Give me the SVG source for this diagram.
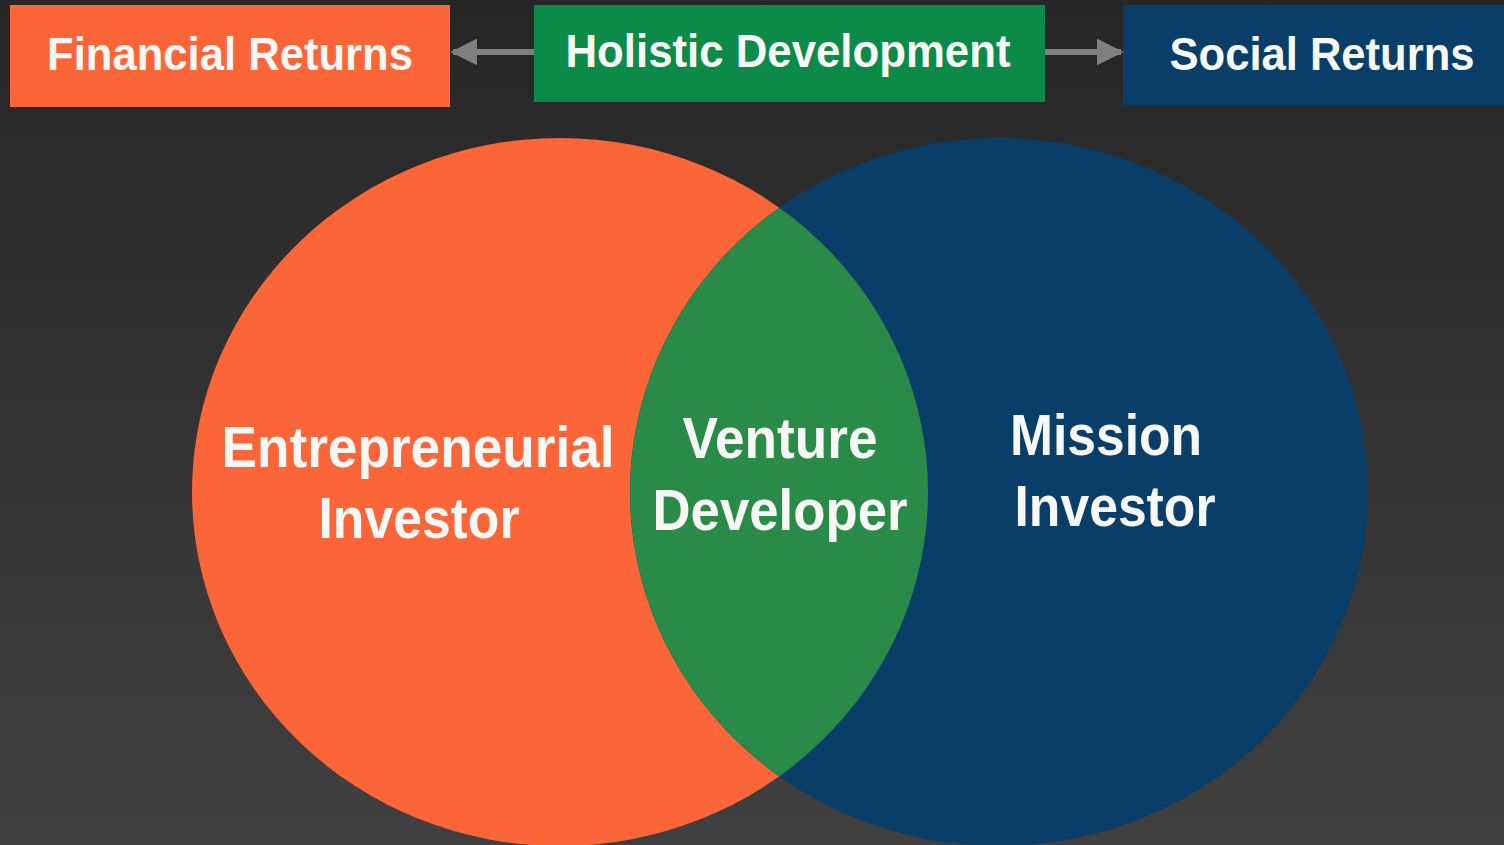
<svg xmlns="http://www.w3.org/2000/svg" width="1504" height="845" viewBox="0 0 1504 845">
<style>
.lbl{font-family:"Liberation Sans Narrow","Liberation Sans",Arial,sans-serif;font-weight:bold;fill:#F7F7F5;text-anchor:middle}
.top{font-size:46px}
.big{font-size:58px}
.conn{stroke:#808080;stroke-width:6;fill:none}
</style>
<defs>
<linearGradient id="bg" x1="0" y1="0" x2="0" y2="1">
<stop offset="0" stop-color="#262626"/>
<stop offset="1" stop-color="#404040"/>
</linearGradient>
<marker id="ah" viewBox="0 0 10 10" refX="9" refY="5" markerWidth="4.5" markerHeight="4.5" orient="auto" markerUnits="strokeWidth">
<path d="M0,0 L10,5 L0,10 z" fill="#808080"/>
</marker>
<clipPath id="lensClip">
<ellipse cx="560" cy="492" rx="368" ry="354"/>
</clipPath>
</defs>
<rect width="1504" height="845" fill="url(#bg)"/>
<g id="connectors">
<line class="conn" x1="534" y1="52" x2="453" y2="52" marker-end="url(#ah)"/>
<line class="conn" x1="1045" y1="52" x2="1121" y2="52" marker-end="url(#ah)"/>
</g>
<g id="financial-returns">
<rect x="10" y="5" width="440" height="102" fill="#FB6538"/>
<text class="lbl top" x="230" y="70" textLength="366" lengthAdjust="spacingAndGlyphs">Financial Returns</text>
</g>
<g id="holistic-development">
<rect x="534" y="5" width="511" height="97" fill="#0B8A48"/>
<text class="lbl top" x="788" y="67" textLength="445" lengthAdjust="spacingAndGlyphs">Holistic Development</text>
</g>
<g id="social-returns">
<rect x="1123" y="5" width="381" height="100" fill="#093E68"/>
<text class="lbl top" x="1322" y="70" textLength="305" lengthAdjust="spacingAndGlyphs">Social Returns</text>
</g>
<g id="entrepreneurial-investor">
<ellipse cx="560" cy="492" rx="368" ry="354" fill="#FB6538"/>
</g>
<g id="mission-investor">
<ellipse cx="999" cy="492" rx="369" ry="354" fill="#093E68"/>
</g>
<g id="venture-developer">
<ellipse cx="999" cy="492" rx="369" ry="354" fill="#2A8A48" clip-path="url(#lensClip)"/>
</g>
<g id="labels">
<text class="lbl big" x="418" y="467" textLength="393" lengthAdjust="spacingAndGlyphs">Entrepreneurial</text>
<text class="lbl big" x="419" y="538" textLength="201" lengthAdjust="spacingAndGlyphs">Investor</text>
<text class="lbl big" x="780" y="458" textLength="195" lengthAdjust="spacingAndGlyphs">Venture</text>
<text class="lbl big" x="780" y="530" textLength="255" lengthAdjust="spacingAndGlyphs">Developer</text>
<text class="lbl big" x="1106" y="455" textLength="192" lengthAdjust="spacingAndGlyphs">Mission</text>
<text class="lbl big" x="1115" y="526" textLength="201" lengthAdjust="spacingAndGlyphs">Investor</text>
</g>
</svg>
